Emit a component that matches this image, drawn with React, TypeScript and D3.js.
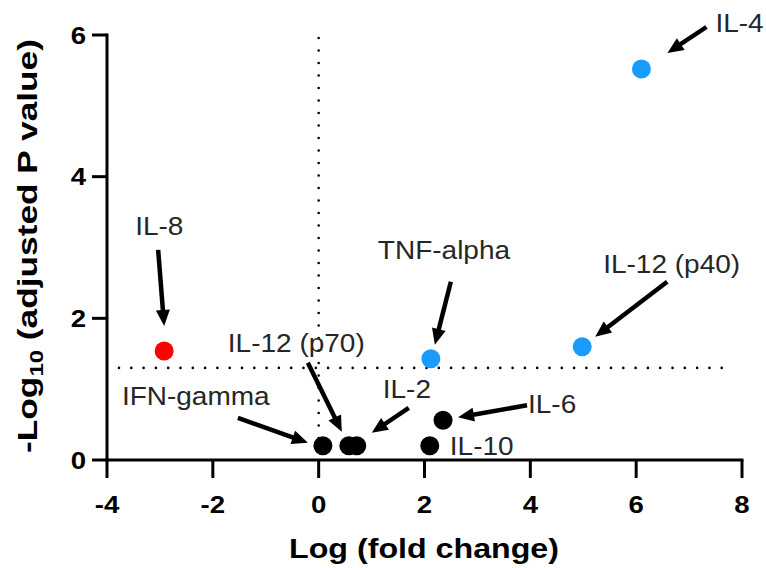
import * as d3 from 'd3';
import React from 'react';

// genes and values
const genes = ['IL-8', 'IFN-gamma', 'IL-12 (p70)', 'IL-2', 'IL-10', 'IL-6', 'TNF-alpha', 'IL-12 (p40)', 'IL-4'];
const logFold = [-2.92, 0.08, 0.57, 0.72, 2.1, 2.35, 2.12, 4.98, 6.1];
const negLogP = [1.54, 0.2, 0.2, 0.2, 0.2, 0.56, 1.43, 1.6, 5.52];
const groups = ['down', 'ns', 'ns', 'ns', 'ns', 'ns', 'up', 'up', 'up'];

const xTicks = [-4, -2, 0, 2, 4, 6, 8];
const yTicks = [0, 2, 4, 6];
const threshold = 1.3;

const colors: Record<string, string> = { down: '#ff0000', up: '#1a9cff', ns: '#000000' };

// label/arrow layout, in px relative to each point: [labelDx, labelDy, tailDx, tailDy, tipDx, tipDy]
const labelLayout: Record<string, number[]> = {
  'IL-8': [-29, -116, -6, -101, 0, -25],
  'IFN-gamma': [-201, -41, -85, -28, -15, -3],
  'IL-12 (p70)': [-121, -94, -41, -83, -7, -14],
  'IL-2': [26, -48, 52, -38, 15, -13],
  'IL-10': [20, 9],
  'IL-6': [85, -7, 84, -15, 15, -3],
  'TNF-alpha': [-53, -100, 20, -77, 4, -14],
  'IL-12 (p40)': [21, -74, 85, -65, 13, -10],
  'IL-4': [74, -37, 65, -42, 26, -16],
};

const W = 766;
const H = 568;
const FONT = '"Liberation Sans", Arial, Helvetica, sans-serif';

function Arrow({ x1, y1, x2, y2 }: { x1: number; y1: number; x2: number; y2: number }) {
  const ang = Math.atan2(y2 - y1, x2 - x1);
  const headLen = 16;
  const halfW = 7;
  const bx = x2 - headLen * Math.cos(ang);
  const by = y2 - headLen * Math.sin(ang);
  const px = -Math.sin(ang);
  const py = Math.cos(ang);
  const head = `M${x2},${y2}L${bx + px * halfW},${by + py * halfW}L${bx - px * halfW},${by - py * halfW}Z`;
  return (
    <g>
      <line x1={x1} y1={y1} x2={bx + Math.cos(ang) * 2} y2={by + Math.sin(ang) * 2} stroke="#000" strokeWidth={4.5} />
      <path d={head} fill="#000" />
    </g>
  );
}

// text stretched along its own direction (the source font is wider than Arial)
function SText({ x, y, sx = 1, rotate = 0, children, ...rest }: any) {
  return (
    <g transform={`translate(${x},${y}) rotate(${rotate}) scale(${sx},1)`}>
      <text {...rest}>{children}</text>
    </g>
  );
}

export default function App() {
  const x = d3.scaleLinear().domain([-4, 8]).range([107, 742]);
  const y = d3.scaleLinear().domain([0, 6]).range([460, 35]);

  const points = genes.map((g, i) => ({
    gene: g,
    cx: x(logFold[i]),
    cy: y(negLogP[i]),
    color: colors[groups[i]],
  }));

  return (
    <svg width={W} height={H} style={{ position: 'absolute', left: 0, top: 0, background: '#fff' }} fontFamily={FONT}>
      {/* reference lines */}
      <line x1={x(-4) + 12} x2={x(8) - 10} y1={y(threshold)} y2={y(threshold)}
        stroke="#000" strokeWidth={2.6} strokeDasharray="0 12.3" strokeLinecap="round" />
      <line x1={x(0)} x2={x(0)} y1={y(6) + 3} y2={y(0)}
        stroke="#000" strokeWidth={2.6} strokeDasharray="0 12.5" strokeLinecap="round" />

      {/* axes */}
      <line x1={x(-4)} x2={x(8)} y1={y(0)} y2={y(0)} stroke="#000" strokeWidth={3} strokeLinecap="square" />
      <line x1={x(-4)} x2={x(-4)} y1={y(0)} y2={y(6)} stroke="#000" strokeWidth={3} strokeLinecap="square" />
      {xTicks.map((t) => (
        <g key={'x' + t}>
          <line x1={x(t)} x2={x(t)} y1={y(0)} y2={y(0) + 18} stroke="#000" strokeWidth={3} />
          <SText x={x(t)} y={513} sx={1.15} textAnchor="middle" fontSize={24} fontWeight="bold" fill="#000">{t}</SText>
        </g>
      ))}
      {yTicks.map((t) => (
        <g key={'y' + t}>
          <line x1={x(-4) - 15} x2={x(-4)} y1={y(t)} y2={y(t)} stroke="#000" strokeWidth={3} />
          <SText x={86} y={y(t) + 8.6} sx={1.15} textAnchor="end" fontSize={24} fontWeight="bold" fill="#000">{t}</SText>
        </g>
      ))}

      {/* axis titles */}
      <SText x={424} y={558} sx={1.15} textAnchor="middle" fontSize={28} fontWeight="bold" fill="#000">
        Log (fold change)
      </SText>
      <SText x={37} y={246} rotate={-90} sx={1.26} textAnchor="middle" fontSize={28} fontWeight="bold" fill="#000">
        -Log<tspan fontSize={19} dy={6}>10</tspan><tspan dy={-6}> (adjusted P value)</tspan>
      </SText>

      {/* points */}
      {points.map((p) => (
        <circle key={p.gene} cx={p.cx} cy={p.cy} r={9.5} fill={p.color} />
      ))}

      {/* labels + arrows */}
      {points.map((p) => {
        const l = labelLayout[p.gene];
        return (
          <g key={'lab' + p.gene}>
            <SText x={p.cx + l[0]} y={p.cy + l[1]} sx={1.12} fontSize={25} fill="#262626">{p.gene}</SText>
            {l.length > 2 && (
              <Arrow x1={p.cx + l[2]} y1={p.cy + l[3]} x2={p.cx + l[4]} y2={p.cy + l[5]} />
            )}
          </g>
        );
      })}
    </svg>
  );
}
